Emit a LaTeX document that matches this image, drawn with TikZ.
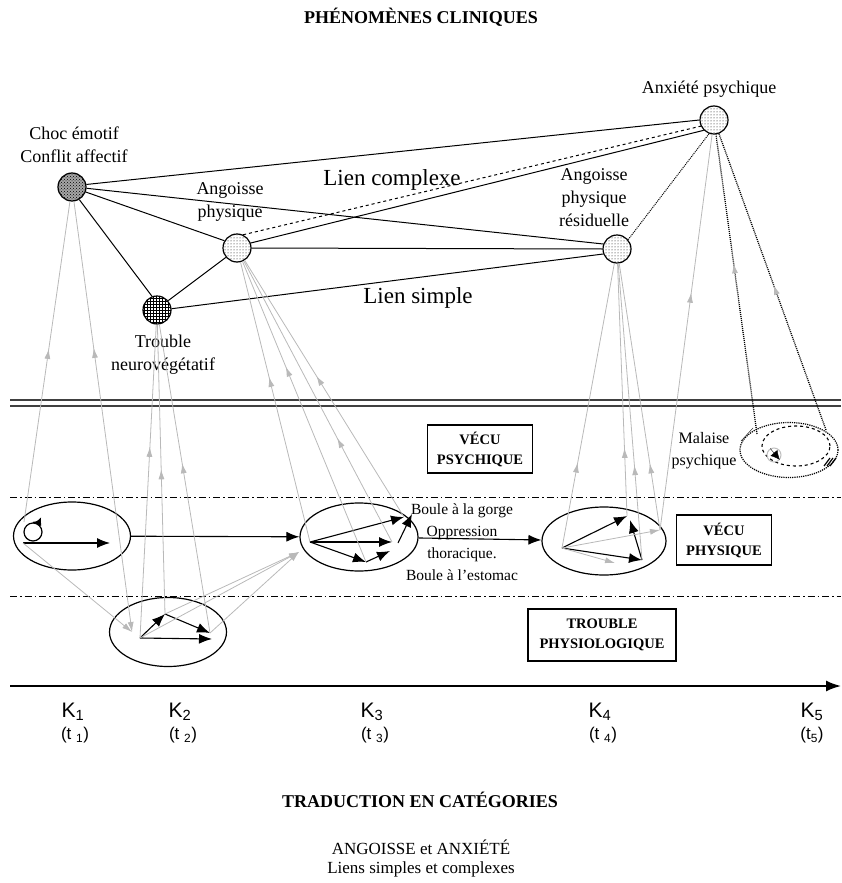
\documentclass[tikz,border=0pt]{standalone}
\usepackage{fontspec}
\setmainfont{Liberation Serif}
\setsansfont{Liberation Sans}
\usetikzlibrary{shapes.geometric, patterns, decorations.markings, arrows.meta}

\tikzset{
  gtip/.tip={Latex[length=10pt, width=6pt]},
  ntip/.tip={Latex[length=13pt, width=10pt]},
}

\begin{document}
\begin{tikzpicture}[x=1pt, y=-1pt,
    phen/.style={draw, circle, minimum size=28pt, inner sep=0pt, line width=1.2pt},
    etiq/.style={align=center, font=\fontsize{18}{23}\selectfont},
    lien/.style={line width=1pt},
    gris/.style={gray!55, line width=0.8pt},
    montee/.style={gris, postaction={decorate, decoration={markings, mark=at position #1 with {\arrow{gtip}}}}},
    cadre/.style={draw, line width=1.2pt, align=center, inner sep=0pt, font=\fontsize{14.5}{20}\selectfont\bfseries},
    bulle/.style={draw, ellipse, line width=1.2pt, inner sep=0pt},
    fleche/.style={line width=1.1pt, -ntip},
    tps/.style={font=\sffamily\fontsize{21}{21}\selectfont},
    tpsb/.style={font=\sffamily\fontsize{17}{17}\selectfont}]

  \useasboundingbox (0,0) rectangle (841,883);

  \node[font=\fontsize{18}{18}\selectfont\bfseries] (titre) at (421,17) {PHÉNOMÈNES CLINIQUES};

  % phenomenes cliniques
  \node[phen, preaction={fill=gray!70}, pattern=crosshatch dots] (choc) at (72,187) {};
  \node[phen, pattern=dots] (ango) at (237,248) {};
  \node[phen, pattern=grid] (trou) at (157,310) {};
  \node[phen, pattern=dots] (resi) at (617,249) {};
  \node[phen, pattern=dots] (anxi) at (714,120) {};

  \node[etiq] (lchoc) at (74,145) {Choc émotif\\Conflit affectif};
  \node[etiq] (lango) at (230,202) {Angoisse\\physique};
  \node[etiq] (ltrou) at (163,355) {Trouble\\neurovégétatif};
  \node[etiq] (lresi) at (594,198) {Angoisse\\physique\\résiduelle};
  \node[etiq] (lanxi) at (709,89) {Anxiété psychique};

  \draw[lien] (choc.10) -- (anxi.180);
  \draw[lien] (choc.-5) -- (resi.160);
  \draw[lien] (choc.-20) -- (ango.150);
  \draw[lien] (choc.-60) -- (trou.110);
  \draw[lien] (ango.220) -- (trou.40);
  \draw[lien] (ango.0) -- (resi.180);
  \draw[lien] (ango.20) -- (anxi.225);
  \draw[lien, dashed] (ango.65) -- (anxi.205);
  \draw[lien] (trou.5) -- (resi.200);
  \draw[lien, densely dotted] (resi.40) -- (anxi.250);

  \node[font=\fontsize{23}{23}\selectfont] (lcomplexe) at (392,180) {Lien complexe};
  \node[font=\fontsize{23}{23}\selectfont] (lsimple) at (418,298) {Lien simple};

  % niveaux
  \draw[line width=1.3pt, gray!50!black] (10,400) -- (841,400);
  \draw[line width=1.3pt, gray!50!black] (10,406) -- (841,406);
  \draw[line width=1pt, dash pattern=on 7pt off 3pt on 1.5pt off 3pt] (10,497) -- (841,497);
  \draw[line width=1pt, dash pattern=on 7pt off 3pt on 1.5pt off 3pt] (10,596) -- (841,596);

  \node[cadre, minimum width=105pt, minimum height=48pt] (vpsy) at (480,449) {VÉCU\\PSYCHIQUE};
  \node[cadre, minimum width=95pt, minimum height=50pt] (vphy) at (724,540) {VÉCU\\PHYSIQUE};
  \node[cadre, minimum width=148pt, minimum height=52pt] (tphy) at (602,635) {TROUBLE\\PHYSIOLOGIQUE};

  % moments
  \node[bulle, minimum width=117pt, minimum height=68pt] (K1) at (72,536) {};
  \node[bulle, minimum width=117pt, minimum height=69pt] (K2) at (168,632) {};
  \node[bulle, minimum width=118pt, minimum height=68pt] (K3) at (359,537) {};
  \node[bulle, minimum width=124pt, minimum height=68pt] (K4) at (604,541) {};

  \node[draw, circle, line width=1.2pt, minimum size=18pt, inner sep=0pt] (k1rond) at (33,532) {};
  \draw[line width=1.2pt, -{Latex[length=8pt, width=8pt]}] (k1rond.90) arc[start angle=-90, end angle=-25, radius=9pt];
  \coordinate (k1o) at (23,543);
  \coordinate (k1e) at (110,543);
  \coordinate (k1a) at (24,522);
  \draw[fleche] (k1o) -- (k1e);
  \draw[fleche] (K1) -- (K3);
  \draw[fleche] (K3) -- (K4);

  \coordinate (k2a) at (132,632);
  \coordinate (k2o) at (140,638);
  \coordinate (k2m) at (165,614);
  \coordinate (k2e) at (210,633);
  \coordinate (k2f) at (212,639);
  \draw[fleche] (k2o) -- (k2m);
  \draw[fleche] (k2m) -- (k2e);
  \draw[fleche] (k2o) -- (k2f);

  \coordinate (k3o) at (310,542);
  \coordinate (k3t) at (404,517);
  \coordinate (k3m) at (392,542);
  \coordinate (k3s) at (366,562);
  \coordinate (k3q) at (390,551);
  \coordinate (k3r) at (398,543);
  \coordinate (k3u) at (412,514);
  \coordinate (k3g) at (299,552);
  \draw[fleche] (k3o) -- (k3t);
  \draw[fleche] (k3o) -- (k3m);
  \draw[fleche] (k3o) -- (k3s);
  \draw[fleche] (k3s) -- (k3q);
  \draw[fleche] (k3r) -- (k3u);

  \coordinate (k4o) at (562,548);
  \coordinate (k4t) at (627,516);
  \coordinate (k4b) at (642,560);
  \coordinate (k4h) at (630,520);
  \coordinate (k4g) at (660,530);
  \coordinate (k4c) at (615,563);
  \draw[fleche] (k4o) -- (k4t);
  \draw[fleche] (k4o) -- (k4b);
  \draw[fleche] (k4b) -- (k4h);
  \draw[gris, -gtip] (k4o) -- (k4g);
  \draw[gris, -gtip] (k4o) -- (k4c);

  \node[etiq, font=\fontsize{15.5}{22}\selectfont] (lk3) at (462,542) {Boule à la gorge\\Oppression\\thoracique.\\Boule à l'estomac};

  % liens vers les phenomenes
  \draw[montee=0.54] (k1a) -- (choc);
  \draw[montee=0.66, gtip-] (k2a) -- (choc);
  \draw[gris, -gtip] (k1o) -- (k2a);
  \draw[montee=0.61] (k2o) -- (trou);
  \draw[montee=0.5] (k2m) -- (trou);
  \draw[montee=0.55] (k2e) -- (trou);
  \draw[gris, -gtip] (k2o) -- (k3g);
  \draw[gris, -gtip] (k2m) -- (k3g);
  \draw[gris, -gtip] (k2e) -- (k3g);
  \draw[montee=0.59] (k3o) -- (ango);
  \draw[montee=0.65] (k3s) -- (ango);
  \draw[montee=0.37] (k3m) -- (ango);
  \draw[montee=0.55] (k3t) -- (ango);
  \draw[montee=0.3] (k4o) -- (resi);
  \draw[montee=0.27] (k4t) -- (resi);
  \draw[montee=0.32] (k4b) -- (resi);
  \draw[montee=0.25] (k4g) -- (resi);
  \draw[montee=0.6] (k4g) -- (anxi);

  % malaise psychique
  \node[draw, ellipse, densely dotted, line width=1.2pt, minimum width=98pt, minimum height=55pt] (mal) at (789,450) {};
  \node[draw, ellipse, dashed, line width=1.1pt, minimum width=68pt, minimum height=40pt] (malin) at (796,446) {};
  \node[draw, circle, gray!50, line width=1pt, minimum size=14pt, inner sep=0pt] (malrond) at (774,455) {};
  \draw[-{Latex[length=9pt, width=9pt]}] (malrond.120) -- (malrond.-40);
  \foreach \d in {0,3,6}
    \draw[line width=1.2pt] (824+\d,466) -- (830+\d,458);
  \node[etiq, font=\fontsize{16}{22}\selectfont] (lmal) at (704,451) {Malaise\\psychique};
  \draw (741,441) -- (753,428);
  \coordinate (mal1) at (757,434);
  \coordinate (mal2) at (826,430);
  \draw[lien, densely dotted, line width=1.3pt, postaction={decorate, decoration={markings, mark=at position 0.57 with {\arrow[gray!55]{gtip}}}}] (mal1) -- (anxi);
  \draw[lien, densely dotted, line width=1.3pt, postaction={decorate, decoration={markings, mark=at position 0.49 with {\arrow[gray!55]{gtip}}}}] (mal2) -- (anxi);

  % axe du temps
  \coordinate (axe0) at (10,686);
  \coordinate (axe1) at (841,686);
  \draw[line width=1.8pt, -{Latex[length=15pt, width=11pt]}] (axe0) -- (axe1);
  \node[tps] (t1) at (73,712) {K\textsubscript{1}};
  \node[tps] (t2) at (180,712) {K\textsubscript{2}};
  \node[tps] (t3) at (372,712) {K\textsubscript{3}};
  \node[tps] (t4) at (600,712) {K\textsubscript{4}};
  \node[tps] (t5) at (812,712) {K\textsubscript{5}};
  \node[tpsb] (d1) at (75,735) {(t \textsubscript{1})};
  \node[tpsb] (d2) at (183,735) {(t \textsubscript{2})};
  \node[tpsb] (d3) at (375,735) {(t \textsubscript{3})};
  \node[tpsb] (d4) at (603,735) {(t \textsubscript{4})};
  \node[tpsb] (d5) at (812,735) {(t\textsubscript{5})};

  \node[font=\fontsize{18}{18}\selectfont\bfseries] (trad) at (420,800) {TRADUCTION EN CATÉGORIES};
  \node[align=center, font=\fontsize{17}{19}\selectfont] (cat) at (421,859) {ANGOISSE et ANXIÉTÉ\\Liens simples et complexes};
\end{tikzpicture}
\end{document}
